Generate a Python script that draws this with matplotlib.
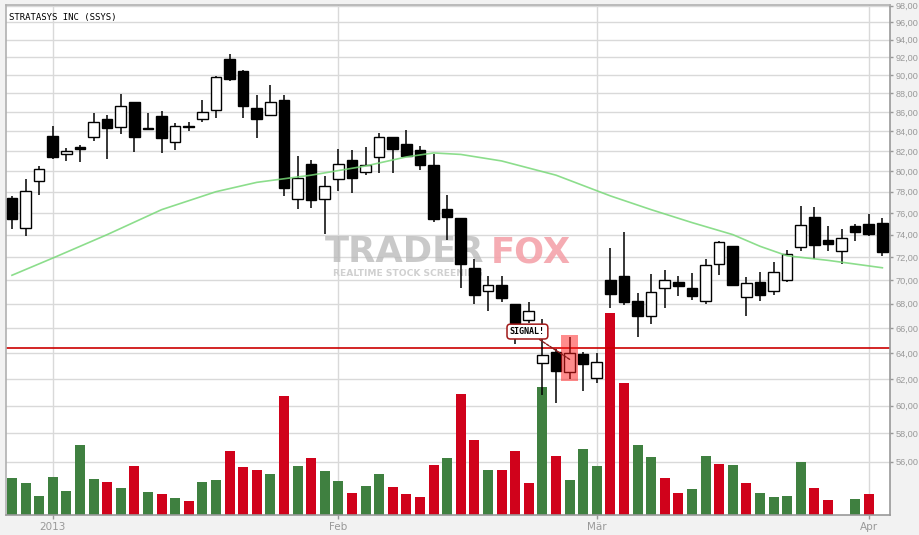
import numpy as np
import matplotlib.pyplot as plt
import matplotlib.ticker as mticker
from matplotlib.patches import Rectangle

# Daily candles, index 0 = 27 Dec 2012 ... 64 = 2 Apr 2013
opens = [77.4, 74.6, 79.0, 83.5, 81.7, 82.4, 83.4, 85.3, 84.4, 87.1,
         84.3, 85.6, 82.9, 84.55, 85.3, 86.2, 91.8, 90.4, 86.4, 85.7,
         87.3, 77.3, 80.7, 77.3, 79.2, 81.1, 79.9, 81.4, 83.4, 82.7,
         82.1, 80.6, 76.4, 75.5, 71.0, 69.05, 69.6, 68.0, 66.65, 63.2,
         64.05, 62.5, 63.9, 62.05, 70.0, 70.3, 68.2, 66.95, 69.35, 69.8,
         69.3, 68.2, 71.35, 73.0, 68.55, 69.8, 69.05, 69.95, 72.9, 75.6,
         73.5, 72.5, 74.75, 74.95, 75.05]
highs = [77.6, 79.2, 80.5, 84.5, 82.3, 82.6, 85.9, 85.7, 87.9, 87.1,
         85.9, 86.1, 84.9, 84.95, 87.3, 89.95, 92.4, 90.6, 87.8, 88.9,
         87.8, 81.5, 81.1, 79.5, 82.2, 82.1, 82.4, 83.8, 83.4, 84.1,
         82.5, 81.7, 77.7, 75.5, 71.8, 70.3, 70.3, 68.0, 68.1, 66.7,
         64.3, 65.3, 64.05, 64.0, 72.8, 74.2, 68.9, 70.5, 70.85, 70.3,
         70.6, 71.8, 73.4, 73.0, 70.25, 70.7, 71.55, 72.6, 76.6, 76.55,
         74.75, 74.5, 74.95, 75.9, 75.5]
lows = [74.5, 73.9, 77.7, 81.2, 81.0, 80.9, 83.0, 81.2, 83.7, 81.9,
        84.1, 81.8, 82.1, 83.98, 85.0, 85.4, 89.3, 85.4, 83.3, 85.7,
        77.6, 76.4, 76.5, 74.1, 78.1, 77.9, 79.6, 79.8, 79.8, 81.5,
        80.1, 75.2, 73.5, 69.3, 68.0, 67.4, 68.1, 64.7, 66.4, 60.8,
        60.2, 62.0, 61.1, 61.65, 67.6, 67.9, 65.3, 66.3, 67.6, 68.6,
        68.3, 68.0, 70.45, 69.5, 67.0, 68.25, 68.7, 69.8, 72.55, 71.85,
        72.55, 71.35, 73.45, 73.9, 72.1]
closes = [75.4, 78.1, 80.2, 81.4, 82.0, 82.2, 85.0, 84.3, 86.7, 83.4,
          84.28, 83.3, 84.6, 84.4, 86.0, 89.8, 89.6, 86.6, 85.3, 87.05,
          78.4, 79.3, 77.2, 78.5, 80.7, 79.3, 80.6, 83.4, 82.2, 81.5,
          80.6, 75.4, 75.6, 71.4, 68.7, 69.6, 68.5, 66.4, 67.4, 63.8,
          62.6, 64.0, 63.1, 63.3, 68.8, 68.15, 67.0, 68.95, 70.0, 69.5,
          68.6, 71.3, 73.3, 69.55, 69.7, 68.7, 70.65, 72.3, 74.85, 73.1,
          73.15, 73.7, 74.25, 74.05, 72.4]

# volume (relative units), nan = no bar
volume = [37, 32, 19, 38, 24, 70, 36, 33, 27, 49,
          23, 21, 17, 14, 33, 35, 64, 48, 45, 41,
          119, 49, 57, 44, 34, 22, 29, 41, 28, 21,
          18, 50, 57, 121, 75, 45, 45, 64, 32, 128,
          59, 35, 66, 49, 202, 132, 70, 58, 37, 22,
          26, 59, 51, 50, 32, 22, 18, 19, 53, 27,
          15, np.nan, 16, 21, np.nan]
vol_dir = list('gggggggrgrgrgrggrrrgrgrggrggrrrrgrrgrrrgrgggrrggrrggrgrggggrr-gr-')

# moving average read at some candles
ma_idx = [0, 3, 7, 11, 15, 18, 22, 26, 29, 31, 33, 36, 40, 44, 47, 50, 53, 55, 57, 60, 64]
ma_val = [70.4, 71.9, 74.0, 76.3, 78.0, 78.9, 79.6, 80.5, 81.4, 81.8, 81.65, 81.0,
          79.6, 77.6, 76.3, 75.1, 74.0, 72.95, 72.1, 71.7, 71.05]

signal_level = 64.37
signal_idx = 41

month_pos = [3, 24, 43, 63]
month_lbl = ['2013', 'Feb', 'Mär', 'Apr']
price_ticks = list(range(56, 99, 2))

GREEN = '#3f8040'
RED = '#d0021b'
GRID = '#d9d9d9'
AXC = '#999999'

fig = plt.figure(figsize=(9.2, 5.35), dpi=100, facecolor='#f2f2f2')
ax = fig.add_axes([6/920, 20/535, 884/920, 510/535])
ax.set_facecolor('white')
ax.set_yscale('log')
ax.set_xlim(-0.44, 64.56)
ax.set_ylim(52.46, 98.08)

idx = np.arange(len(opens))
o, h, l, c = map(np.array, (opens, highs, lows, closes))

# volume bars in the lower part (y in axes fraction)
vol = np.array(volume, dtype=float)
vol_top = np.nanmax(vol) * 2.525
vcol = [GREEN if d == 'g' else RED for d in vol_dir]
ok = ~np.isnan(vol)
ax.bar(idx[ok], vol[ok] / vol_top, bottom=0, width=0.74,
       color=[vcol[i] for i in idx[ok]], transform=ax.get_xaxis_transform(), zorder=1.5)

# watermark
ax.text(0.361, 0.515, 'TRADER', transform=ax.transAxes, fontsize=25.5, fontweight='bold',
        color='#b8b8b8', alpha=0.75, ha='left', va='center', zorder=1)
ax.text(0.548, 0.515, 'FOX', transform=ax.transAxes, fontsize=25.5, fontweight='bold',
        color='#f4a3ab', alpha=0.9, ha='left', va='center', zorder=1)
ax.text(0.370, 0.4745, 'REALTIME STOCK SCREENING', transform=ax.transAxes, fontsize=6.6,
        fontweight='bold', color='#d0d0d0', ha='left', va='center', zorder=1)

# signal line
ax.axhline(signal_level, color='#cc0000', lw=1.2, zorder=2)

# candles
ax.vlines(idx, l, h, color='black', lw=1.1, zorder=3)
body_lo = np.minimum(o, c)
body_h = np.maximum(np.abs(c - o), 0.02)
fill = ['white' if cc > oo else 'black' for oo, cc in zip(o, c)]
ax.bar(idx, body_h, bottom=body_lo, width=0.78, color=fill, edgecolor='black', lw=1.0, zorder=3.1)

# moving average
ax.plot(ma_idx, ma_val, color='#78d878', lw=1.2, alpha=0.85, zorder=4)

# highlight of signal candle
ax.add_patch(Rectangle((signal_idx - 0.6, lows[signal_idx] - 0.15), 1.25,
                       highs[signal_idx] - lows[signal_idx] + 0.3,
                       facecolor='#ff1a1a', alpha=0.5, lw=0, zorder=5))
ax.annotate('SIGNAL!', xy=(signal_idx, 63.5), xytext=(37.9, 65.7),
            fontsize=6, family='DejaVu Sans Mono', fontweight='bold', ha='center', va='center',
            bbox=dict(boxstyle='round,pad=0.35,rounding_size=0.4', fc='white', ec='#a01818', lw=1.1),
            arrowprops=dict(arrowstyle='-', color='#8b1a1a', lw=1.0, ls=(0, (2, 1)),
                            shrinkA=0, shrinkB=0), zorder=6)

# title
ax.text(0.003, 0.985, 'STRATASYS INC (SSYS)', transform=ax.transAxes, fontsize=6.5,
        family='DejaVu Sans Mono', ha='left', va='top', color='black', zorder=6)

# axes, ticks, grid
ax.yaxis.tick_right()
ax.yaxis.set_major_locator(mticker.FixedLocator(price_ticks))
ax.yaxis.set_minor_locator(mticker.NullLocator())
ax.yaxis.set_major_formatter(mticker.FuncFormatter(lambda v, p: f'{v:.2f}'.replace('.', ',')))
ax.set_xticks(month_pos)
ax.set_xticklabels(month_lbl)
ax.tick_params(axis='x', colors=AXC, labelcolor=AXC, labelsize=7.5, length=3, width=1, pad=2)
ax.tick_params(axis='y', colors=AXC, labelcolor=AXC, labelsize=6.6, length=2.5, width=1, pad=1.8)
for t in ax.get_yticklabels():
    t.set_fontfamily('Liberation Sans')
ax.set_axisbelow(True)
ax.grid(True, color=GRID, lw=1)
for s in ax.spines.values():
    s.set_color(AXC)
    s.set_linewidth(1.2)
ax.spines['top'].set_color('#b0b0b0')
ax.spines['left'].set_color('#b0b0b0')

fig.savefig('out.png', dpi=100, facecolor=fig.get_facecolor())
